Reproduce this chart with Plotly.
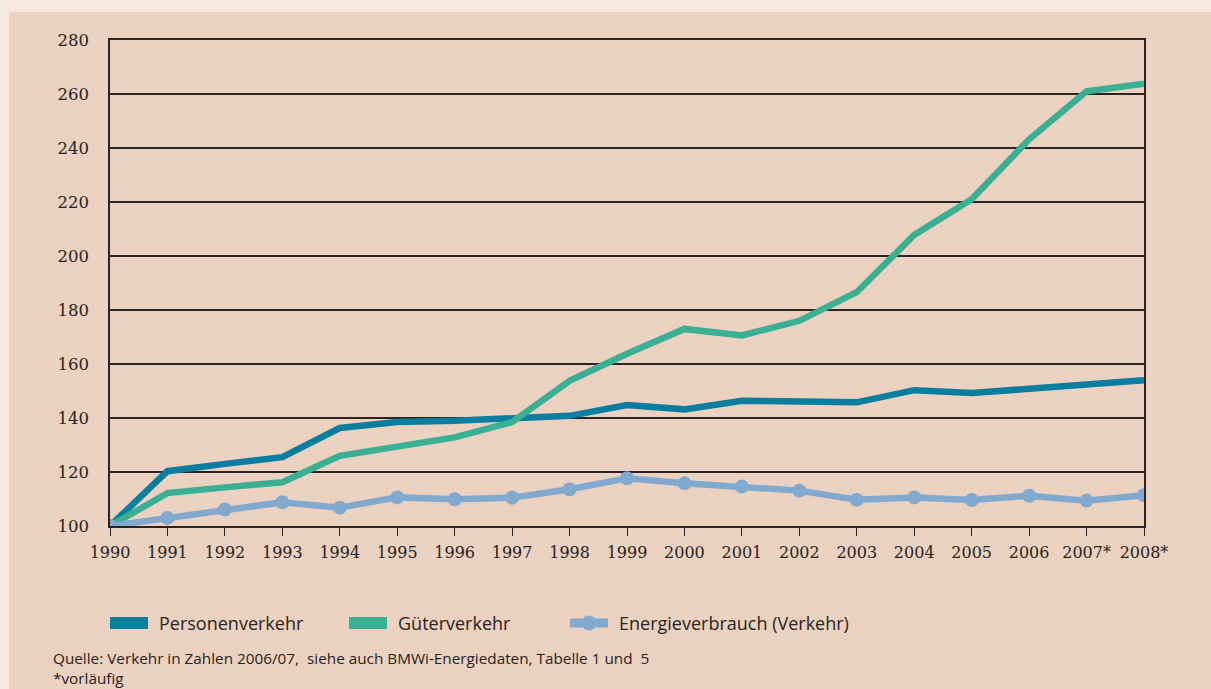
import plotly.graph_objects as go

years = list(range(1990, 2009))
tick_labels = ["1990", "1991", "1992", "1993", "1994", "1995", "1996", "1997", "1998", "1999",
               "2000", "2001", "2002", "2003", "2004", "2005", "2006", "2007*", "2008*"]
personen = [100, 120.3, 123.0, 125.5, 136.3, 138.5, 139.0, 139.6, 140.8, 144.8,
            143.2, 146.4, 146.1, 145.8, 150.3, 149.3, 150.8, 152.3, 154.0]
gueter = [100, 112.2, 114.3, 116.2, 126.0, 129.5, 132.8, 138.5, 153.8, 163.8,
          173.0, 170.6, 176.0, 186.6, 207.8, 221.0, 243.2, 261.0, 263.8]
energie = [100, 103.0, 106.1, 108.8, 106.8, 110.6, 109.9, 110.5, 113.6, 117.7,
           115.8, 114.6, 113.1, 109.7, 110.6, 109.6, 111.2, 109.4, 111.4]
names = ["Personenverkehr", "Güterverkehr", "Energieverbrauch (Verkehr)"]

C_PERS = "#0A7E9E"
C_GUET = "#3AAF94"
C_ENER = "#80A9CD"
DARK = "#2A2321"
PANEL = "#EBD1BF"
OUTER = "#F5E8DF"

W, H = 1211, 689
L, R, T, B = 110, 67, 40, 163
pw, ph = W - L - R, H - T - B


def px_x(x):
    return (x - L) / pw


def px_y(y):
    return (H - B - y) / ph


fig = go.Figure()
fig.add_trace(go.Scatter(x=years, y=personen, mode="lines", name=names[0],
                         line=dict(color=C_PERS, width=6.5), showlegend=False))
fig.add_trace(go.Scatter(x=years, y=gueter, mode="lines", name=names[1],
                         line=dict(color=C_GUET, width=6.5), showlegend=False))
fig.add_trace(go.Scatter(x=years, y=energie, mode="lines+markers", name=names[2],
                         line=dict(color=C_ENER, width=6.5),
                         marker=dict(color=C_ENER, size=14), showlegend=False))

shapes = [
    dict(type="rect", xref="paper", yref="paper", x0=px_x(-2), x1=px_x(W + 2), y0=px_y(12), y1=px_y(-2),
         fillcolor=OUTER, line=dict(width=0), layer="above"),
    dict(type="rect", xref="paper", yref="paper", x0=px_x(-2), x1=px_x(9), y0=px_y(H + 2), y1=px_y(-2),
         fillcolor=OUTER, line=dict(width=0), layer="above"),
]

# legend (drawn manually)
legend_y = 623
legend_items = [(110, C_PERS, False), (349, C_GUET, False), (570, C_ENER, True)]
annotations = []
for (x0, col, marker), name in zip(legend_items, names):
    if marker:
        shapes.append(dict(type="rect", xref="paper", yref="paper", x0=px_x(x0), x1=px_x(x0 + 38),
                           y0=px_y(legend_y + 4.5), y1=px_y(legend_y - 4.5),
                           fillcolor=col, line=dict(width=0), layer="above"))
        shapes.append(dict(type="circle", xref="paper", yref="paper", x0=px_x(x0 + 19 - 7.5),
                           x1=px_x(x0 + 19 + 7.5), y0=px_y(legend_y + 7.5), y1=px_y(legend_y - 7.5),
                           fillcolor=col, line=dict(width=0), layer="above"))
    else:
        shapes.append(dict(type="rect", xref="paper", yref="paper", x0=px_x(x0), x1=px_x(x0 + 38),
                           y0=px_y(legend_y + 6), y1=px_y(legend_y - 6),
                           fillcolor=col, line=dict(width=0), layer="above"))
    annotations.append(dict(text=name, xref="paper", yref="paper", x=px_x(x0 + 47), y=px_y(legend_y),
                            xanchor="left", yanchor="middle", showarrow=False,
                            font=dict(family="Open Sans", size=18, color=DARK)))

annotations.append(
    dict(text="Quelle: Verkehr in Zahlen 2006/07,  siehe auch BMWi-Energiedaten, Tabelle 1 und  5"
              "<br>*vorläufig",
         xref="paper", yref="paper", x=px_x(51), y=px_y(668), xanchor="left", yanchor="middle",
         align="left", showarrow=False, font=dict(family="Open Sans", size=15.3, color=DARK)))

fig.update_layout(
    width=W, height=H,
    margin=dict(l=L, r=R, t=T, b=B, pad=0),
    paper_bgcolor=PANEL, plot_bgcolor=PANEL,
    showlegend=False,
    shapes=shapes,
    annotations=annotations,
    xaxis=dict(range=[1990, 2008], tickvals=years, ticktext=tick_labels,
               showgrid=False, zeroline=False, showline=True, mirror=True,
               linecolor=DARK, linewidth=1.5, ticks="outside", ticklen=8, tickcolor=DARK,
               tickwidth=1.2, ticklabelstandoff=3,
               tickfont=dict(family="DejaVu Serif", size=16, color=DARK)),
    yaxis=dict(range=[100, 280], tickvals=list(range(100, 281, 20)),
               showgrid=True, gridcolor=DARK, gridwidth=1.5, zeroline=False,
               showline=True, mirror=True, linecolor=DARK, linewidth=1.5,
               ticks="", ticklabelstandoff=16,
               tickfont=dict(family="DejaVu Serif", size=16.5, color=DARK)),
)

fig.write_html("out.html", config={"displayModeBar": False},
               post_script="document.body.style.margin='0';document.body.style.overflow='hidden';")
